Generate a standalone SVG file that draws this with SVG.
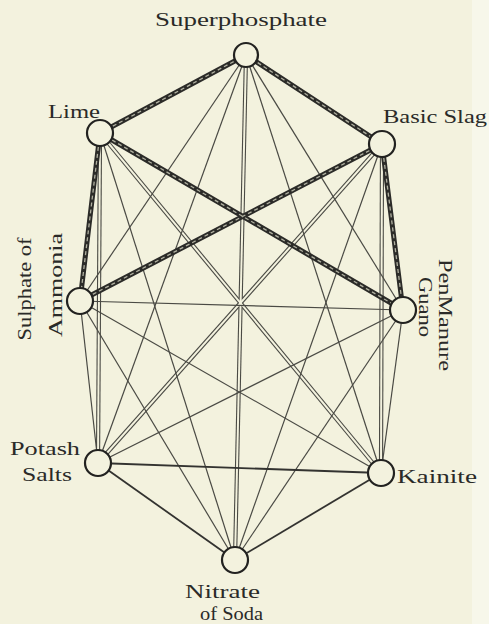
<svg xmlns="http://www.w3.org/2000/svg" width="489" height="624" viewBox="0 0 489 624">
<style>
.bg{fill:#f3f2de}
.dblo{stroke:#4a4a44;stroke-width:4.2;fill:none}
.dbli{stroke:#f3f2de;stroke-width:2;fill:none}
.sgl{stroke:#4a4a44;stroke-width:1.2;fill:none}
.sgb{stroke:#333330;stroke-width:1.8;fill:none}
.thko{stroke:#2b2b28;stroke-width:5;fill:none;stroke-linecap:round}
.thki{stroke:#b0b0a0;stroke-width:1.3;fill:none;stroke-dasharray:4 3}
.node{fill:#f3f2de;stroke:#222220;stroke-width:2.2}
.lbl{font-family:"Liberation Serif","DejaVu Serif",serif;font-size:19px;fill:#2a2a28}
</style>
<rect class="bg" x="0" y="0" width="489" height="624"/>
<rect x="472" y="0" width="17" height="624" fill="#f7f7ea"/>
<g id="connectors">
  <!-- double lines -->
  <g id="double-lines">
    <line class="dblo" x1="100" y1="133" x2="98" y2="463"/>
    <line class="dblo" x1="100" y1="133" x2="381" y2="473"/>
    <line class="dblo" x1="382" y1="144" x2="98" y2="463"/>
    <line class="dblo" x1="382" y1="144" x2="381" y2="473"/>
    <line class="dblo" x1="246" y1="55" x2="235" y2="560"/>
    <line class="dbli" x1="100" y1="133" x2="98" y2="463"/>
    <line class="dbli" x1="100" y1="133" x2="381" y2="473"/>
    <line class="dbli" x1="382" y1="144" x2="98" y2="463"/>
    <line class="dbli" x1="382" y1="144" x2="381" y2="473"/>
    <line class="dbli" x1="246" y1="55" x2="235" y2="560"/>
  </g>
  <g id="single-lines">
    <line class="sgl" x1="246" y1="55" x2="80" y2="301"/>
    <line class="sgl" x1="246" y1="55" x2="403" y2="310"/>
    <line class="sgl" x1="246" y1="55" x2="98" y2="463"/>
    <line class="sgl" x1="246" y1="55" x2="381" y2="473"/>
    <line class="sgl" x1="100" y1="133" x2="235" y2="560"/>
    <line class="sgl" x1="382" y1="144" x2="235" y2="560"/>
    <line class="sgl" x1="80" y1="301" x2="403" y2="310"/>
    <line class="sgl" x1="80" y1="301" x2="98" y2="463"/>
    <line class="sgl" x1="80" y1="301" x2="381" y2="473"/>
    <line class="sgl" x1="80" y1="301" x2="235" y2="560"/>
    <line class="sgl" x1="403" y1="310" x2="98" y2="463"/>
    <line class="sgl" x1="403" y1="310" x2="381" y2="473"/>
    <line class="sgl" x1="403" y1="310" x2="235" y2="560"/>
    <line class="sgb" x1="98" y1="463" x2="381" y2="473"/>
    <line class="sgb" x1="98" y1="463" x2="235" y2="560"/>
    <line class="sgb" x1="381" y1="473" x2="235" y2="560"/>
  </g>
  <g id="thick-lines">
    <line class="thko" x1="246" y1="55" x2="100" y2="133"/>
    <line class="thko" x1="246" y1="55" x2="382" y2="144"/>
    <line class="thko" x1="100" y1="133" x2="80" y2="301"/>
    <line class="thko" x1="100" y1="133" x2="403" y2="310"/>
    <line class="thko" x1="382" y1="144" x2="80" y2="301"/>
    <line class="thko" x1="382" y1="144" x2="403" y2="310"/>
    <line class="thki" x1="246" y1="55" x2="100" y2="133"/>
    <line class="thki" x1="246" y1="55" x2="382" y2="144"/>
    <line class="thki" x1="100" y1="133" x2="80" y2="301"/>
    <line class="thki" x1="100" y1="133" x2="403" y2="310"/>
    <line class="thki" x1="382" y1="144" x2="80" y2="301"/>
    <line class="thki" x1="382" y1="144" x2="403" y2="310"/>
  </g>
</g>
<g id="superphosphate">
  <circle class="node" cx="246" cy="55" r="12"/>
  <text class="lbl" x="155" y="26" textLength="172" lengthAdjust="spacingAndGlyphs">Superphosphate</text>
</g>
<g id="lime">
  <circle class="node" cx="100" cy="133" r="13"/>
  <text class="lbl" x="48" y="118" textLength="52" lengthAdjust="spacingAndGlyphs">Lime</text>
</g>
<g id="basic-slag">
  <circle class="node" cx="382" cy="144" r="13"/>
  <text class="lbl" x="383" y="123" textLength="104" lengthAdjust="spacingAndGlyphs">Basic Slag</text>
</g>
<g id="sulphate-of-ammonia">
  <circle class="node" cx="80" cy="301" r="13"/>
  <text class="lbl" transform="translate(31,289) rotate(-90)" text-anchor="middle" textLength="103" lengthAdjust="spacingAndGlyphs">Sulphate of</text>
  <text class="lbl" transform="translate(62,285) rotate(-90)" text-anchor="middle" textLength="104" lengthAdjust="spacingAndGlyphs">Ammonia</text>
</g>
<g id="pen-manure-guano">
  <circle class="node" cx="403" cy="310" r="13"/>
  <text class="lbl" transform="translate(439,315) rotate(90)" text-anchor="middle" textLength="112" lengthAdjust="spacingAndGlyphs">PenManure</text>
  <text class="lbl" transform="translate(419,307) rotate(90)" text-anchor="middle" textLength="60" lengthAdjust="spacingAndGlyphs">Guano</text>
</g>
<g id="potash-salts">
  <circle class="node" cx="98" cy="463" r="13"/>
  <text class="lbl" x="10" y="455" textLength="70" lengthAdjust="spacingAndGlyphs">Potash</text>
  <text class="lbl" x="22" y="481" textLength="50" lengthAdjust="spacingAndGlyphs">Salts</text>
</g>
<g id="kainite">
  <circle class="node" cx="381" cy="473" r="13"/>
  <text class="lbl" x="397" y="483" textLength="80" lengthAdjust="spacingAndGlyphs">Kainite</text>
</g>
<g id="nitrate-of-soda">
  <circle class="node" cx="235" cy="560" r="13"/>
  <text class="lbl" x="185" y="598" textLength="75" lengthAdjust="spacingAndGlyphs">Nitrate</text>
  <text class="lbl" x="200" y="620" textLength="63" lengthAdjust="spacingAndGlyphs">of Soda</text>
</g>
</svg>
